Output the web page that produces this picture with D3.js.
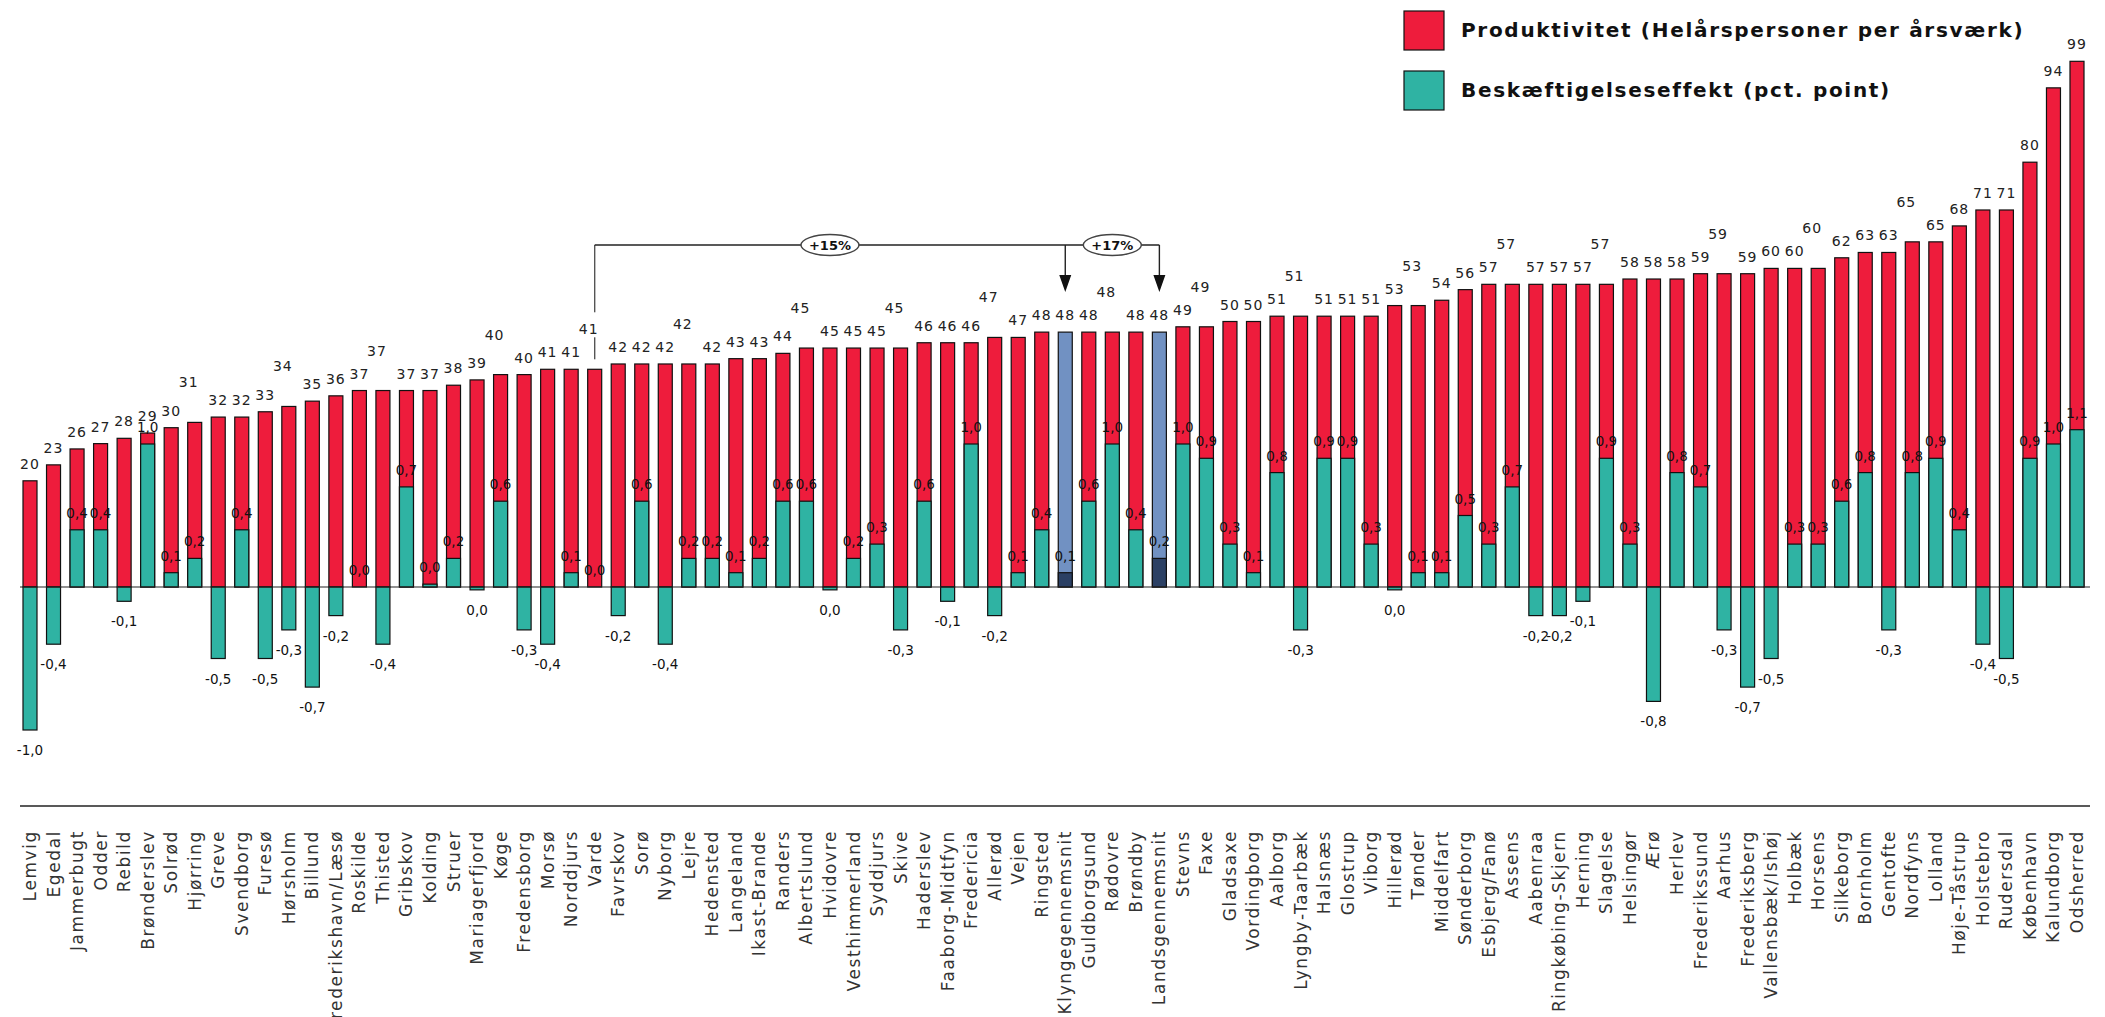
<!DOCTYPE html>
<html>
<head>
<meta charset="utf-8">
<script src="https://cdn.jsdelivr.net/npm/d3@7"></script>
<style>
  html, body { margin: 0; padding: 0; background: #fff; }
  svg { display: block; }
  text { font-family: "DejaVu Sans", "Liberation Sans", sans-serif; }
</style>
</head>
<body>
<svg id="chart" width="2105" height="1017"></svg>
<script>
const categories = [
  "Lemvig","Egedal","Jammerbugt","Odder","Rebild","Brønderslev","Solrød","Hjørring","Greve","Svendborg",
  "Furesø","Hørsholm","Billund","Frederikshavn/Læsø","Roskilde","Thisted","Gribskov","Kolding","Struer","Mariagerfjord",
  "Køge","Fredensborg","Morsø","Norddjurs","Varde","Favrskov","Sorø","Nyborg","Lejre","Hedensted",
  "Langeland","Ikast-Brande","Randers","Albertslund","Hvidovre","Vesthimmerland","Syddjurs","Skive","Haderslev","Faaborg-Midtfyn",
  "Fredericia","Allerød","Vejen","Ringsted","Klyngegennemsnit","Guldborgsund","Rødovre","Brøndby","Landsgennemsnit","Stevns",
  "Faxe","Gladsaxe","Vordingborg","Aalborg","Lyngby-Taarbæk","Halsnæs","Glostrup","Viborg","Hillerød","Tønder",
  "Middelfart","Sønderborg","Esbjerg/Fanø","Assens","Aabenraa","Ringkøbing-Skjern","Herning","Slagelse","Helsingør","Ærø",
  "Herlev","Frederikssund","Aarhus","Frederiksberg","Vallensbæk/Ishøj","Holbæk","Horsens","Silkeborg","Bornholm","Gentofte",
  "Nordfyns","Lolland","Høje-Tåstrup","Holstebro","Rudersdal","København","Kalundborg","Odsherred"
];

// Produktivitet (Helårspersoner per årsværk)
const productivity = [
  20,23,26,27,28,29,30,31,32,32,
  33,34,35,36,37,37,37,37,38,39,
  40,40,41,41,41,42,42,42,42,42,
  43,43,44,45,45,45,45,45,46,46,
  46,47,47,48,48,48,48,48,48,49,
  49,50,50,51,51,51,51,51,53,53,
  54,56,57,57,57,57,57,57,58,58,
  58,59,59,59,60,60,60,62,63,63,
  65,65,68,71,71,80,94,99
];

// Beskæftigelseseffekt (pct. point)
const employment = [
  -1.0,-0.4,0.4,0.4,-0.1,1.0,0.1,0.2,-0.5,0.4,
  -0.5,-0.3,-0.7,-0.2,0.0,-0.4,0.7,0.02,0.2,-0.02,
  0.6,-0.3,-0.4,0.1,0.0,-0.2,0.6,-0.4,0.2,0.2,
  0.1,0.2,0.6,0.6,-0.02,0.2,0.3,-0.3,0.6,-0.1,
  1.0,-0.2,0.1,0.4,0.1,0.6,1.0,0.4,0.2,1.0,
  0.9,0.3,0.1,0.8,-0.3,0.9,0.9,0.3,-0.02,0.1,
  0.1,0.5,0.3,0.7,-0.2,-0.2,-0.1,0.9,0.3,-0.8,
  0.8,0.7,-0.3,-0.7,-0.5,0.3,0.3,0.6,0.8,-0.3,
  0.8,0.9,0.4,-0.4,-0.5,0.9,1.0,1.1
];

const seriesNames = ["Produktivitet (Helårspersoner per årsværk)", "Beskæftigelseseffekt (pct. point)"];
const averageBars = ["Klyngegennemsnit", "Landsgennemsnit"];
// value labels that the original lifts to a second row to avoid overlap
const raisedLabels = ["Hjørring","Hørsholm","Thisted","Køge","Varde","Lejre","Albertslund","Skive","Allerød",
  "Rødovre","Faxe","Lyngby-Taarbæk","Tønder","Assens","Slagelse","Aarhus","Horsens","Nordfyns"];
const bracketFrom = "Varde";
const bracketTexts = ["+15%", "+17%"];

const COL = { red: "#EE1C3C", teal: "#2FB3A3", blue: "#7191C2", navy: "#2B4064", line: "#111" };

const svg = d3.select("#chart");
const baseY = 587;

const x = d3.scalePoint().domain(categories).range([30, 2077]);
const yP = d3.scaleLinear().domain([0, 100]).range([baseY, baseY - 531]);
const yE = d3.scaleLinear().domain([0, 1]).range([baseY, baseY - 143]);
const bw = 14;

const data = categories.map((c, i) => ({ c, p: productivity[i], e: employment[i], avg: averageBars.includes(c), raised: raisedLabels.includes(c) }));
const fmt = v => (Math.round(v * 10) / 10).toFixed(1).replace("-0.0", "0.0").replace(".", ",");

// red bars
svg.append("g").selectAll("rect").data(data).join("rect")
  .attr("x", d => x(d.c) - bw / 2).attr("width", bw)
  .attr("y", d => yP(d.p)).attr("height", d => yP(0) - yP(d.p))
  .attr("fill", d => d.avg ? COL.blue : COL.red)
  .attr("stroke", COL.line).attr("stroke-width", 1.2);

// teal bars
svg.append("g").selectAll("rect").data(data).join("rect")
  .attr("x", d => x(d.c) - bw / 2).attr("width", bw)
  .attr("y", d => Math.min(yE(d.e), yE(0))).attr("height", d => Math.abs(yE(d.e) - yE(0)))
  .attr("fill", d => d.avg ? COL.navy : COL.teal)
  .attr("stroke", COL.line).attr("stroke-width", 1.2);

// zero line
svg.append("line").attr("x1", 20).attr("x2", 2090).attr("y1", baseY).attr("y2", baseY)
  .attr("stroke", "#222").attr("stroke-width", 1.2);

// bottom axis line
svg.append("line").attr("x1", 20).attr("x2", 2090).attr("y1", 806).attr("y2", 806)
  .attr("stroke", "#222").attr("stroke-width", 1.5);

// category labels
svg.append("g").selectAll("text").data(data).join("text")
  .attr("transform", d => `translate(${x(d.c) + 6},830) rotate(-90)`)
  .attr("text-anchor", "end")
  .attr("font-size", 17).attr("letter-spacing", 1.6).attr("fill", "#333")
  .text(d => d.c);

// productivity value labels
svg.append("g").selectAll("text").data(data).join("text")
  .attr("x", d => x(d.c) - (d.raised ? 6 : 0))
  .attr("y", d => yP(d.p) - (d.raised ? 35 : 12))
  .attr("text-anchor", "middle").attr("font-size", 14).attr("letter-spacing", 1)
  .attr("fill", "#222")
  .text(d => d.p);

// employment value labels
svg.append("g").selectAll("text").data(data).join("text")
  .attr("x", d => x(d.c))
  .attr("y", d => d.e >= 0 ? yE(d.e) - 12 : yE(d.e) + 25)
  .attr("text-anchor", "middle").attr("font-size", 13.5).attr("letter-spacing", 0)
  .attr("fill", "#111")
  .text(d => fmt(d.e));

// bracket annotation
const xa = x(bracketFrom), xk = x(averageBars[0]), xl = x(averageBars[1]);
const yBr = 245;
const ann = svg.append("g").attr("stroke", "#222").attr("stroke-width", 1.4).attr("fill", "none");
const vardeTop = yP(productivity[categories.indexOf(bracketFrom)]);
ann.append("line").attr("x1", xa).attr("x2", xa).attr("y1", yBr).attr("y2", vardeTop - 57).attr("stroke", "#555");
ann.append("line").attr("x1", xa).attr("x2", xa).attr("y1", vardeTop - 32).attr("y2", vardeTop - 10).attr("stroke", "#555");
ann.append("line").attr("x1", xa).attr("x2", xl).attr("y1", yBr).attr("y2", yBr);
[xk, xl].forEach(xx => {
  ann.append("line").attr("x1", xx).attr("x2", xx).attr("y1", yBr).attr("y2", 280);
  svg.append("path").attr("d", `M${xx - 6},${275} L${xx + 6},${275} L${xx},${292} Z`).attr("fill", "#111");
});
[[(xa + xk) / 2, bracketTexts[0]], [(xk + xl) / 2, bracketTexts[1]]].forEach(([cx, t]) => {
  svg.append("ellipse").attr("cx", cx).attr("cy", yBr).attr("rx", 29).attr("ry", 10.5)
    .attr("fill", "#fff").attr("stroke", "#444").attr("stroke-width", 1.4);
  svg.append("text").attr("x", cx).attr("y", yBr + 5).attr("text-anchor", "middle")
    .attr("font-size", 13).attr("font-weight", "bold").attr("fill", "#111").text(t);
});

// legend
const legend = svg.append("g");
[[COL.red, seriesNames[0], 11], [COL.teal, seriesNames[1], 71]].forEach(([col, name, yy]) => {
  legend.append("rect").attr("x", 1404).attr("y", yy).attr("width", 40).attr("height", 39)
    .attr("fill", col).attr("stroke", "#111").attr("stroke-width", 1.2);
  legend.append("text").attr("x", 1461).attr("y", yy + 26)
    .attr("font-size", 20).attr("font-weight", "bold").attr("letter-spacing", 1.7).attr("fill", "#111")
    .text(name);
});
</script>
</body>
</html>
